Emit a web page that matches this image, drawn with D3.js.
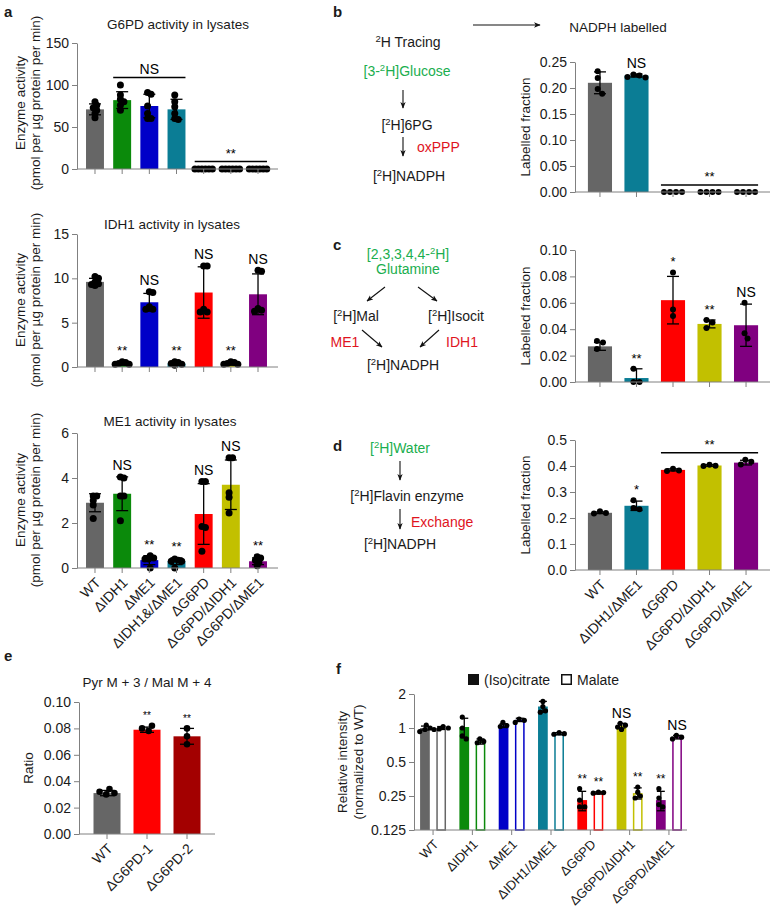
<!DOCTYPE html>
<html>
<head>
<meta charset="utf-8">
<script src="https://cdn.jsdelivr.net/npm/d3@7"></script>
<style>
body { margin: 0; background: #fff; }
text { font-family: "Liberation Sans", Arial, sans-serif; fill: #1a1a1a; }
</style>
</head>
<body>
<script>
// ---------- categories and colours ----------
var aCats = ["WT", "ΔIDH1", "ΔME1", "ΔIDH1&/ΔME1", "ΔG6PD", "ΔG6PD/ΔIDH1", "ΔG6PD/ΔME1"];
var aColors = ["#666666", "#0b8a0b", "#0000c8", "#0b7d95", "#ff0000", "#c2c000", "#800080"];
var bCats = ["WT", "ΔIDH1/ΔME1", "ΔG6PD", "ΔG6PD/ΔIDH1", "ΔG6PD/ΔME1"];
var bColors = ["#666666", "#0b7d95", "#ff0000", "#c2c000", "#800080"];
var eCats = ["WT", "ΔG6PD-1", "ΔG6PD-2"];
var eColors = ["#666666", "#ff0000", "#a30000"];
var fCats = ["WT", "ΔIDH1", "ΔME1", "ΔIDH1/ΔME1", "ΔG6PD", "ΔG6PD/ΔIDH1", "ΔG6PD/ΔME1"];

// ---------- panel a: enzyme activity ----------
var g6pdMean = [71, 82, 75, 71, 0, 0, 0];
var g6pdSd = [6.5, 10, 14, 12, 0, 0, 0];
var g6pdDots = [[80, 76, 73, 70, 66, 61], [100, 88, 83, 80, 76, 70], [91, 89, 75, 66, 60, 60],
  [88, 80, 74, 66, 60, 59], [0, 0, 0, 0, 0, 0], [0, 0, 0, 0, 0, 0], [0, 0, 0, 0, 0, 0]];
var g6pdTicks = [0, 50, 100, 150];

var idh1Mean = [9.6, 0.4, 7.3, 0.4, 8.4, 0.4, 8.2];
var idh1Sd = [0.4, 0.2, 1.0, 0.2, 2.9, 0.2, 2.3];
var idh1Dots = [[10.2, 10.0, 9.6, 9.4, 9.3, 9.2], [0.6, 0.5, 0.4, 0.3, 0.3], [8.5, 8.4, 6.8, 6.5, 6.5],
  [0.6, 0.5, 0.4, 0.3, 0.2], [11.4, 11.4, 6.5, 6.2, 6.2], [0.6, 0.5, 0.4, 0.3, 0.3], [10.9, 10.8, 6.6, 6.4, 6.3]];
var idh1Marks = ["", "**", "NS", "**", "NS", "**", "NS"];
var idh1Ticks = [0, 5, 10, 15];

var me1Mean = [2.9, 3.3, 0.35, 0.3, 2.4, 3.7, 0.3];
var me1Sd = [0.4, 0.75, 0.2, 0.15, 1.35, 1.1, 0.15];
var me1Dots = [[3.2, 3.2, 3.0, 2.8, 2.2], [4.05, 4.0, 3.2, 3.2, 2.1], [0.55, 0.45, 0.4, 0.4, 0.0],
  [0.4, 0.35, 0.3, 0.3, 0.0], [3.85, 3.85, 1.85, 1.8, 0.75], [4.9, 4.9, 3.35, 3.15, 2.45], [0.5, 0.45, 0.35, 0.25, 0.1]];
var me1Marks = ["", "NS", "**", "**", "NS", "NS", "**"];
var me1Ticks = [0, 2, 4, 6];

// ---------- panels b, c, d: labelled fraction ----------
var glcMean = [0.21, 0.224, 0, 0, 0];
var glcSd = [0.021, 0.003, 0, 0, 0];
var glcDots = [[0.232, 0.219, 0.198, 0.189], [0.226, 0.224, 0.221, 0.220], [0, 0, 0, 0], [0, 0, 0, 0], [0, 0, 0, 0]];
var glcMarks = ["", "NS", "", "", ""];
var glcTicks = [0, 0.05, 0.10, 0.15, 0.20, 0.25];

var glnMean = [0.027, 0.003, 0.062, 0.044, 0.043];
var glnSd = [0.003, 0.007, 0.018, 0.003, 0.016];
var glnDots = [[0.031, 0.030, 0.025], [0.010, 0.0, 0.0], [0.083, 0.055, 0.050], [0.047, 0.045, 0.041], [0.060, 0.037, 0.033]];
var glnMarks = ["", "**", "*", "**", "NS"];
var glnTicks = [0, 0.02, 0.04, 0.06, 0.08, 0.10];

var waterMean = [0.22, 0.247, 0.385, 0.402, 0.413];
var waterSd = [0.003, 0.018, 0.004, 0.003, 0.009];
var waterDots = [[0.226, 0.219, 0.217], [0.268, 0.238, 0.234], [0.389, 0.383, 0.381], [0.405, 0.401, 0.400], [0.424, 0.416, 0.406]];
var waterMarks = ["", "*", "", "", ""];
var waterTicks = [0, 0.1, 0.2, 0.3, 0.4, 0.5];

// ---------- panel e: ratio ----------
var ratioMean = [0.031, 0.079, 0.074];
var ratioSd = [0.002, 0.002, 0.006];
var ratioDots = [[0.034, 0.031, 0.030, 0.032], [0.078, 0.082, 0.080], [0.080, 0.074, 0.068]];
var ratioMarks = ["", "**", "**"];
var ratioTicks = [0, 0.02, 0.04, 0.06, 0.08, 0.10];

// ---------- panel f: relative intensity ----------
var citMean = [1.0, 1.02, 1.05, 1.55, 0.23, 1.05, 0.23];
var citSd = [0.04, 0.2, 0.04, 0.17, 0.045, 0.05, 0.045];
var citDots = [[1.06, 1.0, 0.97, 0.93], [1.25, 1.0, 0.85, 0.8], [1.12, 1.05, 1.03], [1.72, 1.55, 1.42, 1.38],
  [0.29, 0.23, 0.2, 0.2], [1.1, 1.06, 1.02, 0.97], [0.29, 0.24, 0.21, 0.2]];
var citMarks = ["", "", "", "", "**", "NS", "**"];
var malMean = [1.0, 0.76, 1.18, 0.89, 0.266, 0.265, 0.83];
var malSd = [0.03, 0.04, 0.04, 0.02, 0.006, 0.03, 0.03];
var malDots = [[1.03, 1.0, 0.98, 0.97], [0.8, 0.76, 0.74], [1.2, 1.17, 1.12], [0.91, 0.89, 0.88],
  [0.27, 0.268, 0.265], [0.3, 0.27, 0.25, 0.24], [0.86, 0.83, 0.8]];
var malMarks = ["", "", "", "", "**", "**", "NS"];
var fTicks = [0.125, 0.25, 0.5, 1, 2];

var axisColor = "#808080";
var fontFam = "'Liberation Sans', Arial, sans-serif";

var svg = d3.select("body").append("svg")
    .attr("width", 778)
    .attr("height", 910);

svg.append("defs").append("marker")
    .attr("id", "arr")
    .attr("viewBox", "0 0 10 10")
    .attr("refX", 9).attr("refY", 5)
    .attr("markerWidth", 6).attr("markerHeight", 6)
    .attr("orient", "auto")
  .append("path")
    .attr("d", "M0,1 L10,5 L0,9 L2.5,5 z")
    .attr("fill", "#111");

// spread dots sideways when they would overlap (simple beeswarm)
function swarm(vals, y, step, minD) {
    var placed = [];
    vals.forEach(function (v) {
        var cy = y(v), off = 0;
        for (var k = 0; k < 60; k++) {
            off = (k % 2 ? 1 : -1) * Math.ceil(k / 2) * step;
            var ok = placed.every(function (p) {
                return (p.dx - off) * (p.dx - off) + (p.cy - cy) * (p.cy - cy) >= minD * minD;
            });
            if (ok) break;
        }
        placed.push({ dx: off, cy: cy });
    });
    var mid = (d3.min(placed, function (p) { return p.dx; }) + d3.max(placed, function (p) { return p.dx; })) / 2;
    placed.forEach(function (p) { p.dx -= mid; });
    return placed;
}

function drawPanel(p) {
    var g = svg.append("g");
    var x = d3.scaleBand().domain(p.cats).range(p.xRange).paddingInner(p.pad).paddingOuter(p.pad / 2);
    var x1 = d3.scaleBand().domain(p.series.map(function (s) { return s.name; }))
        .range([0, x.bandwidth()]).paddingInner(p.subPad || 0);
    var y = p.y;
    var base = y.domain()[0];
    var bottom = y.range()[0];
    var w = x1.bandwidth();
    var tops = p.cats.map(function () { return Infinity; });

    p.series.forEach(function (s) {
        var rows = s.mean.map(function (m, i) {
            return { i: i, mean: m, sd: s.sd[i], dots: s.dots[i], mark: s.marks ? s.marks[i] : "",
                     left: x(p.cats[i]) + x1(s.name) };
        });

        // bars
        g.append("g").selectAll("rect")
            .data(rows)
            .enter()
            .append("rect")
            .attr("x", function (d) { return d.left + (s.open ? 0.75 : 0); })
            .attr("y", function (d) { return y(Math.max(d.mean, base)) + (s.open ? 0.75 : 0); })
            .attr("width", w - (s.open ? 1.5 : 0))
            .attr("height", function (d) { return Math.max(0, bottom - y(Math.max(d.mean, base)) - (s.open ? 0.75 : 0)); })
            .attr("fill", function (d) { return s.open ? "#fff" : p.colors[d.i]; })
            .attr("stroke", function (d) { return s.open ? p.colors[d.i] : "none"; })
            .attr("stroke-width", 1.5);

        // error bars
        var eb = g.append("g").selectAll("g")
            .data(rows.filter(function (d) { return d.sd > 0; }))
            .enter()
            .append("g")
            .attr("stroke", "#000")
            .attr("stroke-width", 1.3);
        eb.append("line")
            .attr("x1", function (d) { return d.left + w / 2; })
            .attr("x2", function (d) { return d.left + w / 2; })
            .attr("y1", function (d) { return y(Math.max(d.mean - d.sd, base)); })
            .attr("y2", function (d) { return y(d.mean + d.sd); });
        [-1, 1].forEach(function (sign) {
            eb.append("line")
                .attr("x1", function (d) { return d.left + w / 2 - p.cap / 2; })
                .attr("x2", function (d) { return d.left + w / 2 + p.cap / 2; })
                .attr("y1", function (d) { return y(Math.max(d.mean + sign * d.sd, base)); })
                .attr("y2", function (d) { return y(Math.max(d.mean + sign * d.sd, base)); });
        });

        // individual points
        rows.forEach(function (d) {
            var pts = swarm(d.dots, y, p.r * 0.5, p.minD);
            g.append("g").selectAll("circle")
                .data(pts)
                .enter()
                .append("circle")
                .attr("cx", function (q) { return d.left + w / 2 + q.dx; })
                .attr("cy", function (q) { return q.cy; })
                .attr("r", p.r)
                .attr("fill", "#000");
            var top = Math.min(y(d.mean + d.sd), d3.min(pts, function (q) { return q.cy; })) - p.r;
            tops[d.i] = Math.min(tops[d.i], top);
            if (d.mark) {
                g.append("text")
                    .attr("x", d.left + w / 2)
                    .attr("y", top - 3)
                    .attr("text-anchor", "middle")
                    .style("font-size", (d.mark == "NS" ? 14 : p.starSize) + "px")
                    .style("fill", "#000")
                    .text(d.mark);
            }
        });
    });

    // group brackets
    (p.brackets || []).forEach(function (b) {
        var ly = d3.min(tops.slice(b.from, b.to + 1)) - 4;
        g.append("line")
            .attr("x1", x(p.cats[b.from]))
            .attr("x2", x(p.cats[b.to]) + x.bandwidth())
            .attr("y1", ly).attr("y2", ly)
            .attr("stroke", "#000").attr("stroke-width", 1.3);
        g.append("text")
            .attr("x", (x(p.cats[b.from]) + x(p.cats[b.to]) + x.bandwidth()) / 2)
            .attr("y", ly - 4)
            .attr("text-anchor", "middle")
            .style("font-size", (b.label == "NS" ? 14 : p.starSize) + "px")
            .style("fill", "#000")
            .text(b.label);
    });

    // axes
    var ya = g.append("g")
        .attr("transform", "translate(" + p.axisX[0] + ",0)")
        .call(d3.axisLeft(y).tickValues(p.yTicks).tickFormat(p.fmt).tickSize(5).tickSizeOuter(0));
    var xa = g.append("g")
        .attr("transform", "translate(0," + bottom + ")")
        .call(d3.axisBottom(x).tickSize(5).tickSizeOuter(0));
    xa.select(".domain").remove();
    xa.append("line")
        .attr("x1", p.axisX[0]).attr("x2", p.axisX[1])
        .attr("stroke", axisColor);
    [ya, xa].forEach(function (a) {
        a.selectAll(".domain, line").attr("stroke", axisColor);
        a.selectAll("text").style("font-size", "14px").style("font-family", fontFam).attr("fill", "#1a1a1a");
    });
    if (p.labels) {
        xa.selectAll(".tick text")
            .attr("x", 0).attr("y", 0).attr("dy", "0.35em")
            .attr("transform", "translate(3,12) rotate(-45)")
            .style("text-anchor", "end")
            .style("font-size", (p.labelSize || 14) + "px");
    } else {
        xa.selectAll(".tick text").remove();
    }

    if (p.title) {
        g.append("text")
            .attr("x", p.title[1]).attr("y", p.title[2])
            .attr("text-anchor", "middle")
            .style("font-size", "13.5px")
            .text(p.title[0]);
    }
    p.yLabel.forEach(function (lab, k) {
        g.append("text")
            .attr("transform", "translate(" + p.yLabelX[k] + "," + p.yLabelY + ") rotate(-90)")
            .attr("text-anchor", "middle")
            .attr("dy", "0.35em")
            .style("font-size", "13.5px")
            .text(lab);
    });
    return x;
}

var enzLabel = ["Enzyme activity", "(pmol per µg protein per min)"];

// Panel a
drawPanel({ cats: aCats, colors: aColors, xRange: [81.4, 271.6], pad: 0.34, axisX: [77, 278],
    y: d3.scaleLinear().domain([0, 150]).range([169, 43]), yTicks: g6pdTicks, fmt: d3.format("d"),
    series: [{ name: "v", mean: g6pdMean, sd: g6pdSd, dots: g6pdDots }],
    brackets: [{ from: 1, to: 3, label: "NS" }, { from: 4, to: 6, label: "**" }],
    r: 3.5, minD: 3.5, cap: 12, starSize: 13, labels: false,
    title: ["G6PD activity in lysates", 178, 29], yLabel: enzLabel, yLabelX: [20, 35], yLabelY: 103 });

drawPanel({ cats: aCats, colors: aColors, xRange: [81.4, 271.6], pad: 0.34, axisX: [77, 278],
    y: d3.scaleLinear().domain([0, 15]).range([367, 234]), yTicks: idh1Ticks, fmt: d3.format("d"),
    series: [{ name: "v", mean: idh1Mean, sd: idh1Sd, dots: idh1Dots, marks: idh1Marks }],
    r: 3.5, minD: 3.5, cap: 12, starSize: 13, labels: false,
    title: ["IDH1 activity in lysates", 172, 229], yLabel: enzLabel, yLabelX: [20, 35], yLabelY: 300 });

drawPanel({ cats: aCats, colors: aColors, xRange: [81.4, 271.6], pad: 0.34, axisX: [77, 278],
    y: d3.scaleLinear().domain([0, 6]).range([568, 433]), yTicks: me1Ticks, fmt: d3.format("d"),
    series: [{ name: "v", mean: me1Mean, sd: me1Sd, dots: me1Dots, marks: me1Marks }],
    r: 3.5, minD: 3.5, cap: 12, starSize: 13, labels: true,
    title: ["ME1 activity in lysates", 170, 426], yLabel: enzLabel, yLabelX: [20, 35], yLabelY: 500 });

// Panels b, c, d
drawPanel({ cats: bCats, colors: bColors, xRange: [581.7, 764.3], pad: 0.34, axisX: [575, 770],
    y: d3.scaleLinear().domain([0, 0.25]).range([192, 62]), yTicks: glcTicks, fmt: d3.format(".2f"),
    series: [{ name: "v", mean: glcMean, sd: glcSd, dots: glcDots, marks: glcMarks }],
    brackets: [{ from: 2, to: 4, label: "**" }],
    r: 3, minD: 6, cap: 12, starSize: 13, labels: false,
    title: ["NADPH labelled", 618, 32], yLabel: ["Labelled fraction"], yLabelX: [525], yLabelY: 127 });

drawPanel({ cats: bCats, colors: bColors, xRange: [581.7, 764.3], pad: 0.34, axisX: [575, 770],
    y: d3.scaleLinear().domain([0, 0.10]).range([382, 250]), yTicks: glnTicks, fmt: d3.format(".2f"),
    series: [{ name: "v", mean: glnMean, sd: glnSd, dots: glnDots, marks: glnMarks }],
    r: 3, minD: 6, cap: 12, starSize: 13, labels: false,
    yLabel: ["Labelled fraction"], yLabelX: [525], yLabelY: 316 });

drawPanel({ cats: bCats, colors: bColors, xRange: [581.7, 764.3], pad: 0.34, axisX: [575, 770],
    y: d3.scaleLinear().domain([0, 0.5]).range([570, 440]), yTicks: waterTicks, fmt: d3.format(".1f"),
    series: [{ name: "v", mean: waterMean, sd: waterSd, dots: waterDots, marks: waterMarks }],
    brackets: [{ from: 2, to: 4, label: "**" }],
    r: 3, minD: 6, cap: 12, starSize: 13, labels: true,
    yLabel: ["Labelled fraction"], yLabelX: [525], yLabelY: 505 });

// Panel e
drawPanel({ cats: eCats, colors: eColors, xRange: [87, 207], pad: 0.325, axisX: [79, 215],
    y: d3.scaleLinear().domain([0, 0.10]).range([834, 702]), yTicks: ratioTicks, fmt: d3.format(".2f"),
    series: [{ name: "v", mean: ratioMean, sd: ratioSd, dots: ratioDots, marks: ratioMarks }],
    r: 3.3, minD: 6, cap: 14, starSize: 10, labels: true,
    title: ["Pyr M + 3 / Mal M + 4", 147, 687], yLabel: ["Ratio"], yLabelX: [28], yLabelY: 768 });

// Panel f
drawPanel({ cats: fCats, colors: aColors, xRange: [413.4, 688.6], pad: 0.34, subPad: 0.4, axisX: [414, 687],
    y: d3.scaleLog().base(2).domain([0.125, 2]).range([830, 694]), yTicks: fTicks, fmt: String,
    series: [{ name: "cit", mean: citMean, sd: citSd, dots: citDots, marks: citMarks },
             { name: "mal", open: true, mean: malMean, sd: malSd, dots: malDots, marks: malMarks }],
    r: 2.6, minD: 4.5, cap: 8, starSize: 12, labels: true, labelSize: 13,
    yLabel: ["Relative intensity", "(normalized to WT)"], yLabelX: [342, 358], yLabelY: 762 });

// legend for f
var leg = svg.append("g");
leg.append("rect").attr("x", 468).attr("y", 674).attr("width", 11).attr("height", 11).attr("fill", "#111");
leg.append("text").attr("x", 484).attr("y", 684.5).style("font-size", "14px").text("(Iso)citrate");
leg.append("rect").attr("x", 561.75).attr("y", 674.75).attr("width", 9.5).attr("height", 9.5)
    .attr("fill", "#fff").attr("stroke", "#111").attr("stroke-width", 1.5);
leg.append("text").attr("x", 577).attr("y", 684.5).style("font-size", "14px").text("Malate");

// ---------- tracing schemes ----------
var green = "#1aae4e", red = "#e0141e";

// parts: even index = normal text, odd index = superscript
function chem(x, y, parts, color, anchor) {
    var t = svg.append("text")
        .attr("x", x).attr("y", y)
        .attr("text-anchor", anchor || "middle")
        .style("font-size", "14px")
        .style("fill", color || "#1a1a1a");
    parts.forEach(function (s, k) {
        if (k % 2) {
            t.append("tspan").attr("dy", -5).style("font-size", "9.5px").text(s);
        } else {
            t.append("tspan").attr("dy", k > 0 ? 5 : 0).text(s);
        }
    });
}

function arrow(x1, y1, x2, y2) {
    svg.append("line")
        .attr("x1", x1).attr("y1", y1).attr("x2", x2).attr("y2", y2)
        .attr("stroke", "#111").attr("stroke-width", 1.1)
        .attr("marker-end", "url(#arr)");
}

// panel b scheme
chem(408, 47, ["", "2", "H Tracing"]);
chem(407, 76, ["[3-", "2", "H]Glucose"], green);
arrow(403, 90, 403, 108);
chem(407, 130, ["[", "2", "H]6PG"]);
arrow(403, 137, 403, 156);
chem(417, 152, ["oxPPP"], red, "start");
chem(409, 181, ["[", "2", "H]NADPH"]);
arrow(473, 25, 540, 25);

// panel c scheme
chem(408, 259, ["[2,3,3,4,4-", "2", "H]"], green);
chem(408, 274, ["Glutamine"], green);
arrow(385, 287, 367, 301);
arrow(418, 287, 437, 301);
chem(356, 321, ["[", "2", "H]Mal"]);
chem(456, 321, ["[", "2", "H]Isocit"]);
chem(345, 347, ["ME1"], red);
chem(462, 347, ["IDH1"], red);
arrow(362, 330, 382, 347);
arrow(439, 330, 420, 347);
chem(403, 370, ["[", "2", "H]NADPH"]);

// panel d scheme
chem(400, 453, ["[", "2", "H]Water"], green);
arrow(400, 461, 400, 480);
chem(407, 501, ["[", "2", "H]Flavin enzyme"]);
arrow(400, 509, 400, 529);
chem(411, 527, ["Exchange"], red, "start");
chem(400, 549, ["[", "2", "H]NADPH"]);

// panel letters
[["a", 4, 17], ["b", 333, 17], ["c", 333, 250], ["d", 333, 451], ["e", 4, 661], ["f", 336, 674]]
    .forEach(function (l) {
        svg.append("text").attr("x", l[1]).attr("y", l[2])
            .style("font-size", "15px").style("font-weight", "bold")
            .text(l[0]);
    });
</script>
</body>
</html>
